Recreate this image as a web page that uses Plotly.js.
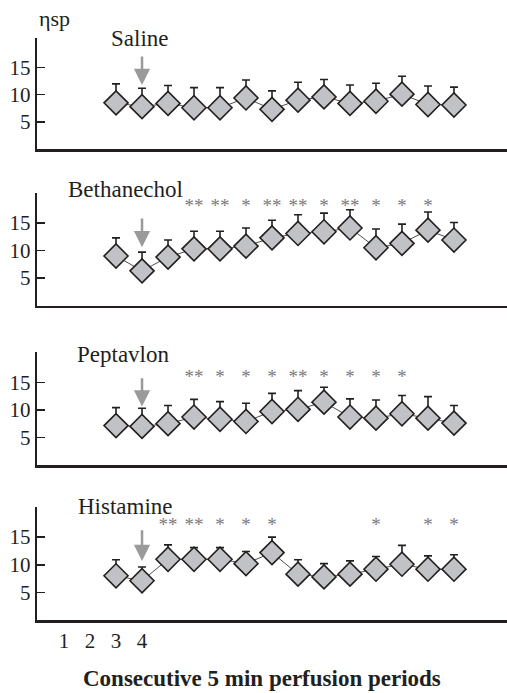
<!DOCTYPE html>
<html><head><meta charset="utf-8">
<script src="https://cdn.plot.ly/plotly-3.0.1.min.js"></script>
<style>html,body{margin:0;padding:0;background:#fff}#c{width:507px;height:693px}</style>
</head><body><div id="c"></div>
<script>
// Data (consecutive 5 min perfusion periods 3..16)
const periods = [3,4,5,6,7,8,9,10,11,12,13,14,15,16];
const xTickVals = [1,2,3,4];
const xTickText = ['1','2','3','4'];
const panelNames = ['Saline','Bethanechol','Peptavlon','Histamine'];

const salineMean = [8.5,7.8,8.4,7.6,7.6,9.4,7.3,9.0,9.6,8.4,8.8,10.1,8.2,8.1];
const salineSE   = [3.5,3.4,3.3,3.7,3.7,3.3,3.4,3.3,3.2,3.4,3.3,3.3,3.4,3.3];
const salineSig  = ['','','','','','','','','','','','','',''];

const bethMean = [9.0,6.3,8.8,10.3,10.3,10.8,12.3,13.1,13.4,14.1,10.5,11.3,13.7,11.9];
const bethSE   = [3.3,3.4,3.1,3.2,3.2,3.3,3.2,3.4,3.4,3.3,3.4,3.5,3.3,3.2];
const bethSig  = ['','','','**','**','*','**','**','*','**','*','*','*',''];

const peptMean = [7.15,7.0,7.5,8.7,8.3,7.9,9.7,10.1,11.4,8.7,8.5,9.3,8.5,7.6];
const peptSE   = [3.25,3.3,3.3,3.2,3.2,3.3,3.3,3.4,2.7,3.3,3.3,3.3,3.9,3.2];
const peptSig  = ['','','','**','*','*','*','**','*','*','*','*','',''];

const histMean = [8.0,7.1,11.0,11.0,11.0,10.2,12.2,8.3,7.8,8.3,9.2,10.1,9.2,9.2];
const histSE   = [2.9,2.5,2.6,2.1,2.1,2.2,2.8,2.6,2.4,2.4,2.3,3.4,2.4,2.6];
const histSig  = ['','','**','**','*','*','*','','','','*','','*','*'];

const means = [salineMean, bethMean, peptMean, histMean];
const ses = [salineSE, bethSE, peptSE, histSE];
const sigs = [salineSig, bethSig, peptSig, histSig];

// Layout geometry
const H = 693;
const panelPx = [[37.7,149],[192.75,305.5],[352,465],[506.75,620]]; // top,bottom px
const starY = [0, 17.9, 15.8, 17.0];
const labelPos = [[3.92,20.4,0],[3.38,20.5,3],[3.27,20.0,0],[3.38,20.5,0]];
const arrowY = [[17.3,11.8],[16.1,10.6],[16.0,10.6],[16.5,10.7]];
const arrowX = 4;
const serif = "'Liberation Serif', 'Times New Roman', Times, serif";

const traces = [];
const layout = {
  width: 507, height: 693,
  margin: {l: 37, r: 0, t: 0, b: 0},
  paper_bgcolor: '#fff', plot_bgcolor: 'rgba(0,0,0,0)',
  showlegend: false,
  font: {family: serif, size: 19, color: '#231f20'},
  annotations: []
};

for (let i = 0; i < 4; i++) {
  const n = i === 0 ? '' : String(i + 1);
  const xa = 'x' + n, ya = 'y' + n;
  traces.push({
    type: 'scatter', mode: 'lines+markers', x: periods, y: means[i],
    xaxis: xa, yaxis: ya, cliponaxis: false,
    line: {color: '#231f20', width: 0.8},
    marker: {symbol: 'diamond', size: 18.5, color: '#c1c2c6', line: {color: '#231f20', width: 1.6}},
    error_y: {type: 'data', symmetric: false, array: ses[i], arrayminus: ses[i].map(() => 0),
              color: '#231f20', thickness: 1.6, width: 4}
  });
  if (i > 0) {
    traces.push({
      type: 'scatter', mode: 'text', x: periods, y: periods.map(() => starY[i]),
      text: sigs[i], xaxis: xa, yaxis: ya, cliponaxis: false,
      textfont: {family: serif, size: 19, color: '#7a7a7c'}, hoverinfo: 'skip'
    });
  }
  const [top, bot] = panelPx[i];
  layout['xaxis' + n] = {
    anchor: ya, domain: [0, 1], range: [-0.04, 18.04],
    showline: true, linecolor: '#231f20', linewidth: 2.5,
    showgrid: false, zeroline: false, ticks: '',
    tickvals: xTickVals, ticktext: xTickText,
    showticklabels: i === 3,
    tickfont: {family: serif, size: 21, color: '#231f20'}
  };
  layout['yaxis' + n] = {
    anchor: xa, domain: [(H - bot) / H, (H - top) / H], range: [0, 20.5],
    showline: true, linecolor: '#231f20', linewidth: 2.2,
    showgrid: false, zeroline: false,
    ticks: 'inside', ticklen: 8, tickwidth: 1.5, tickcolor: '#231f20',
    tickvals: [5, 10, 15], ticktext: ['5', '10', '15'],
    tickfont: {family: serif, size: 21, color: '#231f20'}
  };
  layout.annotations.push({
    xref: xa, yref: ya, x: labelPos[i][0], y: labelPos[i][1], yshift: labelPos[i][2],
    xanchor: 'center', yanchor: 'middle',
    text: panelNames[i], showarrow: false,
    font: {family: serif, size: 23, color: '#231f20'}
  });
  layout.annotations.push({
    xref: xa, yref: ya, axref: xa, ayref: ya,
    x: arrowX, y: arrowY[i][1], ax: arrowX, ay: arrowY[i][0],
    text: '', showarrow: true, arrowhead: 2, arrowsize: 1.3, arrowwidth: 2.5,
    arrowcolor: '#9a9a9c'
  });
}

layout.annotations.push({
  xref: 'paper', yref: 'paper', x: 0, y: (H - 18) / H, xanchor: 'left', yanchor: 'middle',
  text: 'ηsp', showarrow: false, font: {family: serif, size: 22, color: '#231f20'}
});
layout.annotations.push({
  xref: 'paper', yref: 'paper', x: (262 - 37) / 470, y: (H - 678) / H,
  xanchor: 'center', yanchor: 'middle',
  text: '<b>Consecutive 5 min perfusion periods</b>', showarrow: false,
  font: {family: serif, size: 23, color: '#231f20'}
});

Plotly.newPlot('c', traces, layout, {staticPlot: true});
</script></body></html>
